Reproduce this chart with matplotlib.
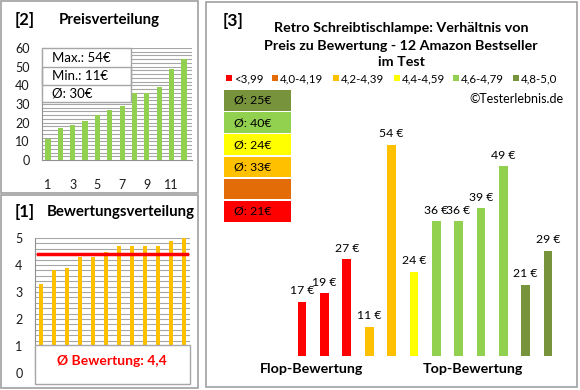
import matplotlib
matplotlib.use('Agg')
import matplotlib.pyplot as plt
from matplotlib.patches import Rectangle

plt.rcParams['font.family'] = ['Lato', 'DejaVu Sans']

# data (product order of panel [3])
ratings = [3.3, 3.8, 3.9, 4.3, 4.3, 4.5, 4.7, 4.7, 4.7, 4.7, 4.9, 5.0]
prices = [17, 19, 27, 11, 54, 24, 36, 36, 39, 49, 21, 29]
class_labels = ['<3,99', '4,0-4,19', '4,2-4,39', '4,4-4,59', '4,6-4,79', '4,8-5,0']
class_colors = ['#FF0000', '#E36C09', '#FFC000', '#FFFF00', '#92D050', '#77933C']
class_bounds = [4.0, 4.2, 4.4, 4.6, 4.8]
title = 'Retro Schreibtischlampe: Verhältnis von\nPreis zu Bewertung - 12 Amazon Bestseller\nim Test'

W, H = 580, 390
fig = plt.figure(figsize=(W / 100, H / 100), dpi=100)
fig.patch.set_facecolor('white')


def fx(x):
    return x / W


def fy(y):
    return 1 - y / H


def px_axes(x0, y0, x1, y1):
    return fig.add_axes([x0 / W, 1 - y1 / H, (x1 - x0) / W, (y1 - y0) / H])


def box(x0, y0, x1, y1, fc='none', ec='#A0A0A0', lw=1.2, z=0):
    fig.patches.append(Rectangle((fx(x0), fy(y1)), (x1 - x0) / W, (y1 - y0) / H,
                                 transform=fig.transFigure, facecolor=fc,
                                 edgecolor=ec, linewidth=lw, zorder=z))


def rating_class(r):
    return sum(r >= b for b in class_bounds)


n = len(prices)
xs = list(range(1, n + 1))
cls = [rating_class(r) for r in ratings]
tick_col = '#1a1a1a'

# panel frames
box(1, 1, 198, 193)
box(1, 195, 198, 388)
box(206, 2, 577, 387)

# ---------- [2] Preisverteilung ----------
fig.text(fx(25), fy(20), '[2]', fontsize=12, fontweight='bold', ha='center', va='center')
fig.text(fx(109), fy(20), 'Preisverteilung', fontsize=10.8, fontweight='bold', ha='center', va='center')
ax2 = px_axes(42, 48, 192, 160)
ax2.bar(xs, sorted(prices), width=0.42, color='#92D050', zorder=3)
ax2.set_xlim(0.52, 12.65)
ax2.set_ylim(0, 60)
ax2.set_yticks(range(0, 61, 10))
ax2.set_xticks([1, 3, 5, 7, 9, 11])
for g in range(2, 61, 2):
    ax2.axhline(g, color='#A6A6A6', lw=0.8, zorder=1)
for s in ['top', 'right']:
    ax2.spines[s].set_visible(False)
for s in ['left', 'bottom']:
    ax2.spines[s].set_color('#909090')
ax2.tick_params(length=0, labelsize=9, labelcolor=tick_col)
ax2.tick_params(axis='x', pad=14)
ax2.tick_params(axis='y', pad=9)

box(42, 48, 131, 102, fc='white', ec='#A6A6A6', lw=1, z=5)
box(42, 67, 131, 85, fc='none', ec='#A6A6A6', lw=1, z=6)
stats = ['Max.: %d€' % max(prices), 'Min.: %d€' % min(prices),
         'Ø: %d€' % round(sum(prices) / n)]
for i, s in enumerate(stats):
    fig.text(fx(52), fy(58 + 18 * i), s, fontsize=9.5, ha='left', va='center', zorder=7)

# ---------- [1] Bewertungsverteilung ----------
fig.text(fx(25), fy(212), '[1]', fontsize=12, fontweight='bold', ha='center', va='center')
fig.text(fx(121), fy(212), 'Bewertungsverteilung', fontsize=10.8, fontweight='bold', ha='center', va='center')
ax1 = px_axes(35, 238, 190, 373)
ax1.bar(xs, ratings, width=0.32, color='#FFC000', zorder=3)
avg_rating = sum(ratings) / n
ax1.plot([0.8, 12.2], [avg_rating, avg_rating], color='#FF0000', lw=2.5, zorder=4)
ax1.set_xlim(0.54, 12.46)
ax1.set_ylim(0, 5)
ax1.set_yticks(range(0, 6))
ax1.set_xticks([])
for g in [i * 0.2 for i in range(1, 26)]:
    ax1.axhline(g, color='#A6A6A6', lw=0.8, zorder=1)
for s in ['top', 'right']:
    ax1.spines[s].set_visible(False)
for s in ['left', 'bottom']:
    ax1.spines[s].set_color('#909090')
ax1.tick_params(length=0, labelsize=9, labelcolor=tick_col, pad=9)
box(35, 345, 190, 384, fc='white', ec='#A6A6A6', lw=1, z=5)
fig.text(fx(112), fy(361), 'Ø Bewertung: %s' % ('%.1f' % avg_rating).replace('.', ','),
         fontsize=10, fontweight='bold', color='#FF0000', ha='center', va='center', zorder=7)

# ---------- [3] Preis zu Bewertung ----------
fig.text(fx(233), fy(21), '[3]', fontsize=12.5, fontweight='bold', ha='center', va='center')
fig.text(fx(401), fy(45.5), title, fontsize=10.3, fontweight='bold', ha='center', va='center',
         linespacing=1.5)

leg_x = [226, 272, 333, 394, 453, 513]
for x0, lab, col in zip(leg_x, class_labels, class_colors):
    box(x0, 75, x0 + 6, 81, fc=col, ec='none', lw=0)
    fig.text(fx(x0 + 8), fy(78.5), lab, fontsize=8.3, ha='left', va='center')
fig.text(fx(563), fy(99), '©Testerlebnis.de', fontsize=9, ha='right', va='center')

# average price per rating class, highest class on top
for k in range(len(class_labels)):
    row = len(class_labels) - 1 - k
    y0 = 90 + 22.2 * row
    box(224, y0, 291, y0 + 20.5, fc=class_colors[k], ec='none', lw=0)
    grp = [p for p, c in zip(prices, cls) if c == k]
    if grp:
        fig.text(fx(234), fy(y0 + 10.5), 'Ø: %d€' % round(sum(grp) / len(grp) + 1e-9),
                 fontsize=8.8, ha='left', va='center')

ax3 = px_axes(224, 90, 570, 356)
ax3.bar(xs, prices, width=0.39, bottom=0, color=[class_colors[c] for c in cls], zorder=3)
ax3.set_xlim(-2.49, 12.98)
ax3.set_ylim(4.14, 67)
ax3.axis('off')
for x, p in zip(xs, prices):
    ax3.annotate('%d €' % p, (x, p), xytext=(0, 4), textcoords='offset points',
                 ha='center', va='bottom', fontsize=8.8)

fig.text(fx(312), fy(369), 'Flop-Bewertung', fontsize=10.3, fontweight='bold', ha='center', va='center')
fig.text(fx(473), fy(369), 'Top-Bewertung', fontsize=10.3, fontweight='bold', ha='center', va='center')

fig.savefig('out.png', dpi=100, facecolor='white')
